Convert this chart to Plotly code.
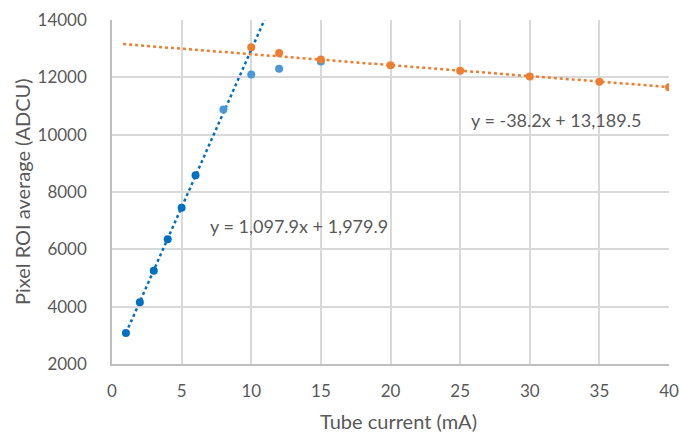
import numpy as np
import plotly.graph_objects as go

# Data
blue_x_dark = [1, 2, 3, 4, 5, 6]
blue_y_dark = [3080, 4150, 5250, 6350, 7450, 8580]
blue_x_light = [8, 10, 12, 15]
blue_y_light = [10880, 12100, 12300, 12550]
orange_x = [10, 12, 15, 20, 25, 30, 35, 40]
orange_y = [13050, 12850, 12620, 12420, 12230, 12030, 11850, 11650]

blue_slope, blue_icpt = 1097.9, 1979.9
orange_slope, orange_icpt = -38.2, 13189.5
blue_trend_x = [1, (14000 - blue_icpt) / blue_slope]
orange_trend_x = [0.8, 40]

blue_eq = "y = 1,097.9x + 1,979.9"
orange_eq = "y = -38.2x + 13,189.5"
x_title = "Tube current (mA)"
y_title = "Pixel ROI average (ADCU)"

BLUE = "#0070C0"
BLUE_L = "#4A98D8"
ORANGE = "#ED7D31"
GRAY = "#595959"
FONT = "Lato, Open Sans, sans-serif"

fig = go.Figure()
fig.add_trace(go.Scatter(x=blue_trend_x, y=[blue_slope * v + blue_icpt for v in blue_trend_x],
                         mode="lines", line=dict(color=BLUE, width=2.5, dash="dot"), hoverinfo="skip"))
fig.add_trace(go.Scatter(x=orange_trend_x, y=[orange_slope * v + orange_icpt for v in orange_trend_x],
                         mode="lines", line=dict(color=ORANGE, width=2.5, dash="dot"), hoverinfo="skip"))
fig.add_trace(go.Scatter(x=blue_x_light, y=blue_y_light, mode="markers",
                         marker=dict(color=BLUE_L, size=8)))
fig.add_trace(go.Scatter(x=blue_x_dark, y=blue_y_dark, mode="markers",
                         marker=dict(color=BLUE, size=8)))
fig.add_trace(go.Scatter(x=orange_x, y=orange_y, mode="markers",
                         marker=dict(color=ORANGE, size=8)))

fig.add_annotation(x=13.4, y=6800, text=blue_eq, showarrow=False,
                   font=dict(size=18, color=GRAY, family=FONT))
fig.add_annotation(x=31.9, y=10500, text=orange_eq, showarrow=False,
                   font=dict(size=18, color=GRAY, family=FONT))

# axis titles as paper-anchored annotations
fig.add_annotation(xref="paper", yref="paper", x=0.515, y=0, yshift=-57, text=x_title,
                   showarrow=False, yanchor="middle",
                   font=dict(size=20, color=GRAY, family=FONT))
fig.add_annotation(xref="paper", yref="paper", x=0, y=0.5, xshift=-90, text=y_title,
                   showarrow=False, textangle=-90, xanchor="center",
                   font=dict(size=20, color=GRAY, family=FONT))

fig.update_layout(
    width=680, height=432,
    margin=dict(l=112, r=11, t=20, b=68),
    paper_bgcolor="white", plot_bgcolor="white",
    showlegend=False,
    font=dict(family=FONT, color=GRAY, size=14),
    xaxis=dict(range=[0, 40], dtick=5, showgrid=True, gridcolor="#D9D9D9", gridwidth=1.5,
               showline=True, linecolor="#BFBFBF", linewidth=1.5, zeroline=False,
               ticks="", tickfont=dict(size=17, color=GRAY), automargin=False,
               ticklabelstandoff=11),
    yaxis=dict(range=[2000, 14000], dtick=2000, showgrid=True, gridcolor="#D9D9D9", gridwidth=1.5,
               showline=True, linecolor="#BFBFBF", linewidth=1.5, zeroline=False,
               ticks="", tickfont=dict(size=17, color=GRAY), tickformat="d", automargin=False,
               ticklabelstandoff=20),
)

fig.write_html("out.html")
